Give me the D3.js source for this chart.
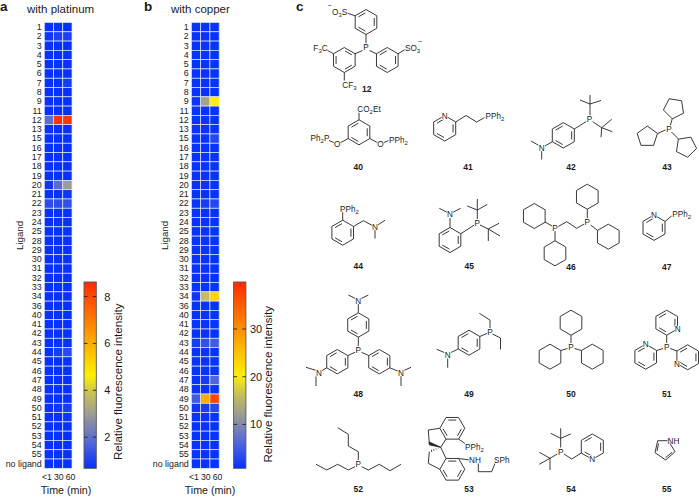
<!DOCTYPE html>
<html>
<head>
<meta charset="utf-8">
<script src="https://cdn.jsdelivr.net/npm/d3@7/dist/d3.min.js"></script>
<style>
  html, body { margin: 0; padding: 0; background: #fff; }
  svg { display: block; }
  text { font-family: "Liberation Sans", Arial, sans-serif; fill: #1a1a1a; }
</style>
</head>
<body>
<svg id="chart" width="699" height="497"></svg>
<script>
var ligands = ["1","2","3","4","5","6","7","8","9","11",
    "12","13","15","16","17","18","19","20","21","22",
    "23","24","25","28","29","30","31","32","33","34",
    "36","40","41","42","43","44","45","46","47","48",
    "49","50","51","52","53","54","55","no ligand"];
var times = ["<1", "30", "60"];

// platinum, relative fluorescence (ten rows a line)
var pt1  = [0.7,0.8,0.7,0.7,0.7,0.7,0.7,0.7,0.7,0.7,
    1.9,0.7,0.7,0.7,0.7,0.7,0.7,0.8,0.7,1.2,
    0.7,0.7,0.7,0.7,0.7,0.7,0.7,0.7,0.7,0.7,
    0.7,0.7,0.7,0.7,0.7,0.7,0.7,0.7,0.7,0.7,
    0.7,0.7,0.7,0.7,0.7,0.7,0.7,0.7];
var pt30 = [0.7,1.0,0.7,0.7,0.7,0.7,0.7,0.7,0.7,0.7,
    8.4,0.7,0.7,0.7,0.7,0.7,0.7,1.9,0.7,1.2,
    0.7,0.7,0.7,0.7,0.7,0.7,0.7,0.7,0.7,0.7,
    0.7,0.7,0.7,0.7,0.7,0.9,0.7,0.7,0.7,0.7,
    0.7,0.8,0.7,0.7,0.7,0.7,0.7,0.7];
var pt60 = [0.7,1.0,0.7,0.7,0.7,0.7,0.9,0.7,0.7,0.7,
    8.3,0.7,0.7,0.7,0.7,0.7,0.7,3.0,0.8,1.3,
    0.7,0.7,0.7,0.7,0.7,0.7,0.7,0.7,0.7,0.7,
    0.7,0.7,0.7,0.7,0.7,1.2,0.7,0.7,0.7,0.7,
    0.7,0.9,0.8,0.7,0.7,0.7,0.7,0.7];

// copper
var cu1  = [1,1,1,1,1,1,1,1,1.4,1,
    1,1,1,1,1,1,1,1,1,1,
    1,1,1,1,1,1,1,1,1,1.4,
    1,1,1,1,2,1,1,1,1,1,
    5,1.3,1,1,1,1,1,1];
var cu30 = [1,1,1,1,1,1,1,1,13,1,
    1,1,1,1,1,1,1,1,1,2,
    1,1,1,1,1,1,1,1,1,16,
    1,1,1,1,4,1,1,1,2,1,
    27,2,1,1,1,1,1,1];
var cu60 = [1,1,1,1,1,1,1,1,20.5,1,
    1,1,3,1,1,1,1,1,1,3,
    1,1,1,1,1,1,1,1,1,23,
    1,1,1,1,5,1,1,1,6,1,
    37,3,1,1,1,1,1,1];

var svg = d3.select("#chart");
var defs = svg.append("defs");

var heatColor = d3.scaleLinear().domain([0, 0.14, 0.28, 0.4, 0.5, 0.72, 1])
    .range(["#0530ff", "#5468d8", "#989898", "#c6c258", "#fff000", "#ff9a00", "#ff2a00"]);

// one heatmap panel with its colour bar
function panel(id, opt) {
    var x = d3.scaleBand().domain(times).range([opt.x0, opt.x1]);
    var y = d3.scaleBand().domain(ligands).range([22.5, 468.3]);
    var barY = d3.scaleLinear().domain(opt.domain).range([468.3, 282]);
    var norm = d3.scaleLinear().domain(opt.domain).range([0, 1]).clamp(true);

    times.forEach(function (t, i) {
        svg.append("g").selectAll("rect").data(opt.series[i]).enter().append("rect")
            .attr("x", x(t))
            .attr("y", function (d, j) { return y(ligands[j]); })
            .attr("width", x.bandwidth())
            .attr("height", y.bandwidth())
            .attr("fill", function (d) { return heatColor(norm(d)); })
            .attr("stroke", "#dfe6ff")
            .attr("stroke-width", 0.7);
    });

    var left = svg.append("g").attr("transform", "translate(" + (opt.x0 - 2.6) + ",0)")
        .call(d3.axisLeft(y).tickSize(0).tickPadding(0));
    left.select(".domain").remove();
    left.selectAll("text").attr("font-size", 8.9).style("font-family", "Liberation Sans");

    // the time labels spread wider than the columns
    var timeX = d3.scalePoint().domain(times).range(opt.timeRange);
    var bottom = svg.append("g").attr("transform", "translate(0,473.5)")
        .call(d3.axisBottom(timeX).tickSize(0).tickPadding(0));
    bottom.select(".domain").remove();
    bottom.selectAll("text").attr("font-size", 8.7).style("font-family", "Liberation Sans");

    svg.append("text").attr("x", opt.titleX).attr("y", 12.7).attr("font-size", 11.5).text(opt.title);
    svg.append("text").attr("x", opt.letterX).attr("y", 11).attr("font-size", 13.5).attr("font-weight", "bold").text(id);
    svg.append("text").attr("x", opt.timeX).attr("y", 494).attr("text-anchor", "middle")
        .attr("font-size", 10.7).text("Time (min)");
    svg.append("text").attr("transform", "translate(" + opt.ligandX + ",250) rotate(-90)")
        .attr("font-size", 9.7).text("Ligand");

    // colour bar
    var grad = defs.append("linearGradient").attr("id", "grad" + id)
        .attr("x1", 0).attr("y1", 1).attr("x2", 0).attr("y2", 0);
    d3.range(0, 1.001, 0.02).forEach(function (t) {
        grad.append("stop").attr("offset", t).attr("stop-color", heatColor(t));
    });
    svg.append("rect").attr("x", opt.barX).attr("y", 282).attr("width", 12.3).attr("height", 186.3)
        .attr("fill", "url(#grad" + id + ")").attr("stroke", "#555").attr("stroke-width", 0.9);

    var bar = svg.append("g").attr("transform", "translate(" + (opt.barX + 12.3) + ",0)")
        .call(d3.axisRight(barY).tickValues(opt.ticks).tickSize(0).tickPadding(opt.pad).tickFormat(d3.format("d")));
    bar.select(".domain").remove();
    bar.selectAll("text").attr("font-size", 11).style("font-family", "Liberation Sans");
    opt.ticks.forEach(function (v) {
        svg.append("line").attr("x1", opt.barX).attr("x2", opt.barX + 3.5).attr("y1", barY(v)).attr("y2", barY(v))
            .attr("stroke", "#222").attr("stroke-width", 0.9);
        svg.append("line").attr("x1", opt.barX + 8.8).attr("x2", opt.barX + 12.3).attr("y1", barY(v)).attr("y2", barY(v))
            .attr("stroke", "#222").attr("stroke-width", 0.9);
    });
    svg.append("text").attr("transform", "translate(" + opt.labelX + "," + opt.labelY + ") rotate(-90)")
        .attr("font-size", 11.6).text("Relative fluorescence intensity");
}

panel("a", { x0: 44.3, x1: 72, barX: 84, domain: [0.67, 8.62], ticks: [2, 4, 6, 8], pad: 8,
    series: [pt1, pt30, pt60], title: "with platinum", titleX: 27, letterX: 0, ligandX: 23,
    labelX: 122, labelY: 460, timeRange: [46.5, 70], timeX: 66 });
panel("b", { x0: 191.4, x1: 219.2, barX: 233.6, domain: [0.8, 39.85], ticks: [10, 20, 30], pad: 4,
    series: [cu1, cu30, cu60], title: "with copper", titleX: 171, letterX: 144, ligandX: 168,
    labelX: 272, labelY: 462.5, timeRange: [193.5, 217], timeX: 210 });

svg.append("text").attr("x", 296).attr("y", 11).attr("font-size", 13.5).attr("font-weight", "bold").text("c");

// ---- structures of panel c ----
var chem = svg.append("g").attr("fill", "none").attr("stroke", "#222").attr("stroke-width", 0.9).attr("stroke-linejoin", "round");
var labels = svg.append("g");

function bond(pts) { chem.append("path").attr("d", d3.line()(pts)); }

function ringPts(cx, cy, r, n, rot) {
    return d3.range(n).map(function (i) {
        var a = rot + i * 2 * Math.PI / n;
        return [cx + r * Math.cos(a), cy + r * Math.sin(a)];
    });
}

// vertices run clockwise from the first one, dbl = edges with a double bond
function ring(cx, cy, r, dbl, n, rot) {
    n = n || 6;
    rot = rot === undefined ? -Math.PI / 2 : rot;
    var pts = ringPts(cx, cy, r, n, rot);
    chem.append("path").attr("d", d3.line()(pts) + "Z");
    (dbl || []).forEach(function (e) {
        var a = pts[e], b = pts[(e + 1) % n], k = 0.76;
        var ix = function (p) { return [cx + (p[0] - cx) * k, cy + (p[1] - cy) * k]; };
        var p = ix(a), q = ix(b);
        bond([[p[0] + (q[0] - p[0]) * 0.08, p[1] + (q[1] - p[1]) * 0.08], [q[0] + (p[0] - q[0]) * 0.08, q[1] + (p[1] - q[1]) * 0.08]]);
    });
}

// atom label, "_" marks a subscript character
function atom(x, y, s, anchor) {
    var t = labels.append("text").attr("x", x).attr("y", y + 2.9).attr("font-size", 8.2)
        .attr("text-anchor", anchor || "middle")
        .attr("stroke", "#fff").attr("stroke-width", 1.4).style("paint-order", "stroke");
    var back = 0;
    s.split(/(_.)/).filter(Boolean).forEach(function (part) {
        if (part[0] === "_") {
            t.append("tspan").attr("font-size", 6).attr("dy", 1.8).text(part[1]);
            back = -1.8;
        } else {
            t.append("tspan").attr("dy", back).text(part);
            back = 0;
        }
    });
}

// charge sign, sits apart from the atom text
function charge(x, y) {
    labels.append("text").attr("x", x).attr("y", y + 2).attr("font-size", 7).attr("text-anchor", "middle").text("\u2212");
}

function num(x, y, s) {
    labels.append("text").attr("x", x).attr("y", y + 3).attr("font-size", 8.5).attr("font-weight", "bold")
        .attr("text-anchor", "middle").text(s);
}

var ALT = [0, 2, 4], ALT2 = [1, 3, 5];

// 12
ring(366, 22, 12.5, ALT2);
ring(344.3, 60, 12.5, ALT);
ring(387.3, 60, 12.5, ALT2);
bond([[366, 34.5], [366, 47]]);
bond([[362.5, 50.5], [355, 53.8]]);
bond([[369.5, 50.5], [376.5, 53.8]]);
bond([[333.5, 53.8], [326, 49.5]]);
bond([[344.3, 72.5], [344.3, 80.5]]);
bond([[398, 53.8], [405, 49.5]]);
bond([[355.2, 15.8], [347, 13]]);
atom(366, 47.5, "P");
atom(320.5, 48, "F_3C");
atom(349.5, 85, "CF_3");
atom(405, 48, "SO_3", "start");
charge(420, 41.5);
atom(332, 12, "O_3S", "start");
charge(329.5, 5.5);
num(366.7, 89, "12");

// 40
ring(359, 132.3, 12.5, ALT2);
bond([[359, 119.8], [359, 112.5]]);
bond([[348.2, 138.5], [340, 143]]);
bond([[369.8, 138.5], [378, 143]]);
bond([[335, 143], [329, 140.5]]);
bond([[383, 143], [388.5, 140.5]]);
atom(369, 109, "CO_2Et");
atom(337.3, 144.5, "O");
atom(380.5, 144.5, "O");
atom(320, 138.5, "Ph_2P");
atom(398.5, 140, "PPh_2");
num(358.3, 166.7, "40");

// 41
ring(444.7, 128.3, 12.7, ALT2);
bond([[455.7, 122], [466, 115.5], [476.7, 122], [484.5, 117.5]]);
atom(444.7, 116.5, "N");
atom(485.5, 116.5, "PPh_2", "start");
num(468, 166.7, "41");

// 42
ring(563.3, 135.3, 12.7, ALT2);
bond([[574.3, 129], [586.3, 121.5]]);
bond([[552.3, 141.7], [545, 146]]);
bond([[538.5, 145.3], [531, 141]]);
bond([[541.7, 151], [541.7, 159.5]]);
bond([[590, 116], [590, 104], [590, 95]]);
bond([[580, 100], [590, 104], [601, 100.5]]);
bond([[592.7, 121.7], [601.7, 127.7], [611.7, 119.3]]);
bond([[612.3, 131.7], [601.7, 127.7], [601, 137.3]]);
atom(589.5, 119.3, "P");
atom(541.7, 147.7, "N");
num(571, 167.3, "42");

// 43
ring(674, 108.3, 10.7, [], 5, Math.PI * 0.55);
ring(647.3, 136.7, 10.7, [], 5, -Math.PI * 0.1);
ring(686, 146.7, 10.7, [], 5, Math.PI * 1.25);
bond([[670.3, 125.5], [672.2, 118.8]]);
bond([[665.5, 130], [657.5, 133.5]]);
bond([[671.5, 132], [678.5, 139]]);
atom(669, 129.3, "P");
num(667, 167.3, "43");

// 44
ring(342.7, 232.7, 12.5, ALT2);
bond([[342.7, 220.2], [342.7, 212]]);
bond([[353.5, 226.5], [363.3, 220.7], [372, 225.3]]);
bond([[378, 224.8], [385, 220.3]]);
bond([[375, 230], [375, 238.5]]);
atom(340, 208.8, "PPh_2", "start");
atom(375, 226.7, "N");
num(358.3, 266, "44");

// 45
ring(450, 240, 12.5, ALT2);
bond([[450, 227.5], [450, 218]]);
bond([[447, 212.2], [439.3, 208.3]]);
bond([[453, 212.2], [460.7, 208.3]]);
bond([[460.8, 233.7], [474, 225.2]]);
bond([[477.3, 219], [477.3, 210], [477.3, 199]]);
bond([[467.3, 206], [477.3, 210], [487.3, 204.5]]);
bond([[480, 225], [488.3, 229], [499, 223.3]]);
bond([[500, 236], [488.3, 229], [488.3, 241]]);
atom(450, 214.5, "N");
atom(477.3, 222.7, "P");
num(469.3, 266, "45");

// 46
ring(534.3, 216, 12.5);
ring(587.3, 196.7, 12.5);
ring(608.3, 236.7, 12.5);
ring(555, 253.3, 12.5);
bond([[545, 222], [552, 226]]);
bond([[587.3, 209.2], [587.3, 219]]);
bond([[590.7, 225], [597.5, 230.4]]);
bond([[555, 231], [555, 240.8]]);
bond([[558.3, 226.5], [566.7, 221.7], [576.7, 228.3], [584.2, 224]]);
atom(555, 227.7, "P");
atom(587.3, 222.5, "P");
num(571, 266.7, "46");

// 47
ring(654, 227.7, 12.7, ALT2);
bond([[665, 221.4], [671.7, 216]]);
atom(654, 215.5, "N");
atom(672.3, 214.3, "PPh_2", "start");
num(666.7, 266.7, "47");

// 48
ring(358.3, 325, 12.2, ALT2);
ring(337.3, 361.7, 12.2, ALT2);
ring(379.3, 361.7, 12.2, ALT2);
bond([[358.3, 304], [358.3, 312.8]]);
bond([[355.3, 298.5], [348.3, 295]]);
bond([[361.3, 298.5], [368.3, 295]]);
bond([[358.3, 337.2], [358.3, 346]]);
bond([[355, 352.3], [347.8, 355.6]]);
bond([[361.6, 352.3], [368.8, 355.6]]);
bond([[326.8, 367.8], [322, 370.5]]);
bond([[315.7, 370.3], [306, 367.3]]);
bond([[316, 376], [316, 386]]);
bond([[389.8, 367.8], [397.8, 371]]);
bond([[404.3, 370.3], [411, 367.3]]);
bond([[401, 376], [401, 386]]);
atom(358.3, 300.7, "N");
atom(358.3, 350, "P");
atom(319, 372.7, "N");
atom(401, 372.7, "N");
num(358.3, 394, "48");

// 49
ring(469, 342.7, 12.5, ALT2);
bond([[479.8, 336.5], [487.3, 333.3]]);
bond([[458.2, 349], [451, 352.5]]);
bond([[444.3, 352.5], [436.7, 349.3]]);
bond([[447.7, 358.5], [447.7, 367.7]]);
bond([[490, 328], [490, 320], [479.3, 313.3]]);
bond([[492.5, 334], [500.5, 338], [500.5, 349.5]]);
atom(490, 331.7, "P");
atom(447.7, 355, "N");
num(469, 394, "49");

// 50
ring(571, 322.7, 12.5);
ring(550, 356.7, 12.5);
ring(592.3, 356.7, 12.5);
bond([[571, 335.2], [571, 343]]);
bond([[560.8, 350.5], [567.5, 348.5]]);
bond([[581.5, 350.5], [574.5, 348.5]]);
atom(571, 346.7, "P");
num(571, 394, "50");

// 51
ring(666.7, 322.7, 12.5, ALT2);
ring(645.7, 356.7, 12.5, ALT2);
ring(687.7, 357.3, 12.5, ALT2);
bond([[666.7, 335.2], [666.7, 343]]);
bond([[656.5, 350.5], [663.2, 348.5]]);
bond([[677, 351], [670.2, 348.5]]);
atom(666.7, 346.7, "P");
atom(677.7, 328.7, "N");
atom(645.7, 344.5, "N");
atom(676.9, 363.7, "N");
num(666.7, 394, "51");

// 52
bond([[358.3, 460], [358.3, 451.7], [348.3, 446], [348.3, 434.3], [337.7, 427.7]]);
bond([[355, 466.7], [348.3, 470], [337.7, 464.3], [326.7, 470], [316, 464.3]]);
bond([[361.7, 466.7], [368.3, 470], [379.3, 464.3], [390, 470.7], [401, 464.3]]);
atom(358.3, 464.3, "P");
num(358.3, 489.3, "52");

// 53, spiro compound with flat-topped benzene rings
ring(452.3, 428.3, 12.5, ALT, 6, 0);
ring(452.3, 469.3, 12.5, ALT, 6, 0);
bond([[439.8, 428.3], [428.3, 430], [429.3, 443.3]]);
bond([[446, 439.1], [440.7, 447.3], [446, 458.5]]);
bond([[439.8, 469.3], [428.3, 463.3], [429.3, 451.7]]);
chem.append("path").attr("d", d3.line()([[440.7, 447.3], [429.3, 442], [429.3, 444.8]]) + "Z").attr("fill", "#222");
d3.range(0.2, 1, 0.2).forEach(function (k) {
    var hx = 440.7 + (429.3 - 440.7) * k, hy = 447.3 + (451.7 - 447.3) * k;
    bond([[hx, hy - 1.2 * k], [hx, hy + 1.2 * k]]);
});
bond([[458.6, 439.1], [465, 443.5]]);
bond([[458.6, 458.5], [470, 460]]);
bond([[478.3, 463.3], [478.3, 471.7], [491.7, 471.7], [495, 463.3]]);
atom(465, 447, "PPh_2", "start");
atom(475, 460, "NH");
atom(494, 460, "SPh", "start");
num(469, 489.3, "53");

// 54
ring(592.3, 446.7, 12.7, ALT2);
bond([[560.7, 447.5], [560.7, 438.3], [560.7, 428.3]]);
bond([[550.7, 433.3], [560.7, 438.3], [570.7, 434]]);
bond([[557.3, 454], [550, 458.3], [539.3, 452.3]]);
bond([[539.3, 464.3], [550, 458.3], [550, 470]]);
bond([[564, 454], [571.7, 459], [581.3, 453]]);
atom(560.7, 451.7, "P");
atom(592.3, 458.7, "N");
num(571, 489.3, "54");

// 55
chem.append("path").attr("d", d3.line()([[657.7, 440.7], [668.3, 440.7], [675, 451.7], [665.7, 460], [655, 452.7]]) + "Z");
bond([[658.5, 443.5], [657, 451.2]]);
bond([[672.2, 452.2], [665.6, 457.6]]);
atom(673.5, 440.7, "NH");
num(666.7, 489.3, "55");
</script>
</body>
</html>
